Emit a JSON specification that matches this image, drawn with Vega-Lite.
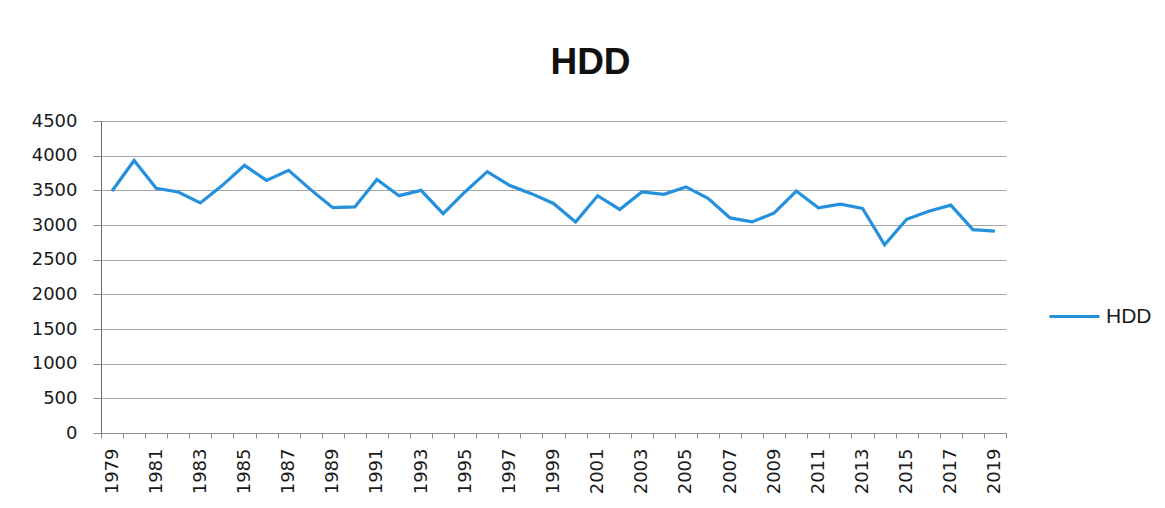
{
  "$schema": "https://vega.github.io/schema/vega-lite/v6.json",
  "autosize": {"type": "none"},
  "width": 905,
  "height": 312,
  "padding": {"left": 101, "top": 121, "right": 159, "bottom": 75},
  "background": "white",
  "title": {
    "text": "HDD",
    "font": "Liberation Sans",
    "fontSize": 37,
    "fontWeight": "bold",
    "color": "#111111",
    "anchor": "middle",
    "frame": "group",
    "dx": 37,
    "baseline": "alphabetic",
    "offset": 1
  },
  "data": {
    "values": [
      {"year": 1979, "hdd": 3490, "series": "HDD"},
      {"year": 1980, "hdd": 3930, "series": "HDD"},
      {"year": 1981, "hdd": 3530, "series": "HDD"},
      {"year": 1982, "hdd": 3476, "series": "HDD"},
      {"year": 1983, "hdd": 3318, "series": "HDD"},
      {"year": 1984, "hdd": 3572, "series": "HDD"},
      {"year": 1985, "hdd": 3860, "series": "HDD"},
      {"year": 1986, "hdd": 3644, "series": "HDD"},
      {"year": 1987, "hdd": 3788, "series": "HDD"},
      {"year": 1988, "hdd": 3510, "series": "HDD"},
      {"year": 1989, "hdd": 3250, "series": "HDD"},
      {"year": 1990, "hdd": 3260, "series": "HDD"},
      {"year": 1991, "hdd": 3658, "series": "HDD"},
      {"year": 1992, "hdd": 3423, "series": "HDD"},
      {"year": 1993, "hdd": 3500, "series": "HDD"},
      {"year": 1994, "hdd": 3164, "series": "HDD"},
      {"year": 1995, "hdd": 3480, "series": "HDD"},
      {"year": 1996, "hdd": 3769, "series": "HDD"},
      {"year": 1997, "hdd": 3572, "series": "HDD"},
      {"year": 1998, "hdd": 3452, "series": "HDD"},
      {"year": 1999, "hdd": 3311, "series": "HDD"},
      {"year": 2000, "hdd": 3044, "series": "HDD"},
      {"year": 2001, "hdd": 3422, "series": "HDD"},
      {"year": 2002, "hdd": 3224, "series": "HDD"},
      {"year": 2003, "hdd": 3476, "series": "HDD"},
      {"year": 2004, "hdd": 3442, "series": "HDD"},
      {"year": 2005, "hdd": 3549, "series": "HDD"},
      {"year": 2006, "hdd": 3384, "series": "HDD"},
      {"year": 2007, "hdd": 3102, "series": "HDD"},
      {"year": 2008, "hdd": 3044, "series": "HDD"},
      {"year": 2009, "hdd": 3175, "series": "HDD"},
      {"year": 2010, "hdd": 3490, "series": "HDD"},
      {"year": 2011, "hdd": 3248, "series": "HDD"},
      {"year": 2012, "hdd": 3301, "series": "HDD"},
      {"year": 2013, "hdd": 3238, "series": "HDD"},
      {"year": 2014, "hdd": 2714, "series": "HDD"},
      {"year": 2015, "hdd": 3083, "series": "HDD"},
      {"year": 2016, "hdd": 3199, "series": "HDD"},
      {"year": 2017, "hdd": 3287, "series": "HDD"},
      {"year": 2018, "hdd": 2933, "series": "HDD"},
      {"year": 2019, "hdd": 2913, "series": "HDD"}
    ]
  },
  "mark": {"type": "line", "strokeWidth": 3.2, "strokeJoin": "miter"},
  "encoding": {
    "x": {
      "field": "year",
      "type": "ordinal",
      "scale": {"type": "band", "paddingInner": 0, "paddingOuter": 0},
      "axis": {
        "title": null,
        "tickBand": "extent",
        "labelAngle": -90,
        "labelExpr": "datum.value % 2 == 1 ? datum.label : ''",
        "labelFont": "DejaVu Sans",
        "labelFontSize": 18,
        "labelColor": "#1a1a1a",
        "labelPadding": 10,
        "tickSize": 5,
        "tickColor": "#8c8c8c",
        "domainColor": "#8c8c8c",
        "grid": false
      }
    },
    "y": {
      "field": "hdd",
      "type": "quantitative",
      "scale": {"domain": [0, 4500], "nice": false},
      "axis": {
        "title": null,
        "format": "d",
        "values": [0, 500, 1000, 1500, 2000, 2500, 3000, 3500, 4000, 4500],
        "labelFont": "DejaVu Sans",
        "labelFontSize": 18,
        "labelColor": "#1a1a1a",
        "labelPadding": 16,
        "tickSize": 8,
        "tickColor": "#8c8c8c",
        "domainColor": "#6e6e6e",
        "gridColor": "#a6a6a6",
        "gridWidth": 1
      }
    },
    "color": {
      "field": "series",
      "type": "nominal",
      "scale": {"range": ["#2590dc"]},
      "legend": {
        "title": null,
        "orient": "none",
        "legendX": 947,
        "legendY": 169,
        "symbolType": "stroke",
        "symbolSize": 2500,
        "symbolStrokeWidth": 3,
        "labelFont": "Liberation Sans",
        "labelFontSize": 21,
        "labelColor": "#1a1a1a",
        "labelOffset": 5
      }
    }
  },
  "config": {"view": {"stroke": null}}
}
